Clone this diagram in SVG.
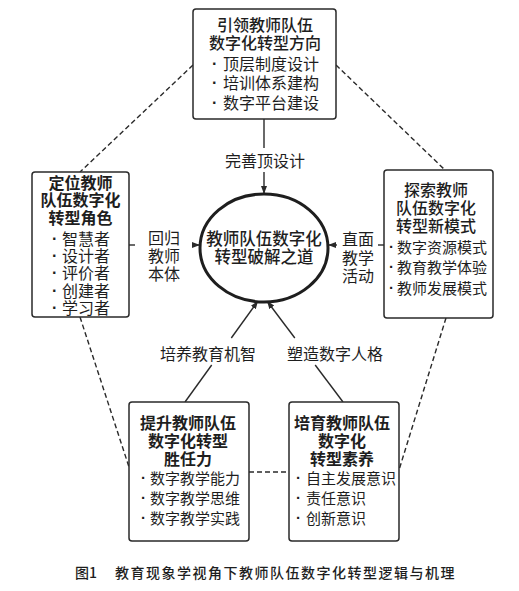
<svg xmlns="http://www.w3.org/2000/svg" width="519" height="591" viewBox="0 0 519 591">
<style>
text{font-family:"Noto Sans CJK SC","Noto Sans",sans-serif;fill:#1e1e1e;dominant-baseline:central}
.box{fill:#fff;stroke:#2a2a2a;stroke-width:1.5}
.t{font-size:16px;font-weight:bold;text-anchor:middle}
.i16{font-size:16px}
.i15{font-size:15px}
.b{font-family:"Liberation Sans",sans-serif;font-weight:bold}
.lab{font-size:16px;text-anchor:middle}
.con{stroke:#2a2a2a;stroke-width:1.4;fill:none}
.dash{stroke:#2a2a2a;stroke-width:1.4;fill:none;stroke-dasharray:5 3}
</style>
<defs>
<marker id="arr" markerUnits="userSpaceOnUse" markerWidth="9" markerHeight="7" refX="8" refY="3" orient="auto">
<path d="M0,0 L8,3 L0,6 z" fill="#2a2a2a"/>
</marker>
</defs>
<rect width="519" height="591" fill="#fff"/>
<g id="connectors">
<line class="dash" x1="193" y1="65" x2="80" y2="172"/>
<line class="dash" x1="336" y1="65" x2="445" y2="170"/>
<line class="dash" x1="80" y1="317" x2="129" y2="467"/>
<line class="dash" x1="446" y1="318" x2="399" y2="470"/>
<line class="dash" x1="249" y1="472" x2="289" y2="472"/>
<line class="con" x1="264" y1="119" x2="264" y2="148"/>
<line class="con" x1="264" y1="172" x2="264" y2="194" marker-end="url(#arr)"/>
<line class="con" x1="129" y1="245" x2="135" y2="245"/>
<line class="con" x1="192" y1="245" x2="200" y2="245" marker-end="url(#arr)"/>
<line class="con" x1="384" y1="245" x2="378" y2="245"/>
<line class="con" x1="337" y1="245" x2="328" y2="245" marker-end="url(#arr)"/>
<line class="con" x1="185" y1="402" x2="211.7" y2="365"/>
<line class="con" x1="231.3" y1="338" x2="258" y2="301" marker-end="url(#arr)"/>
<line class="con" x1="343" y1="402" x2="315.2" y2="365"/>
<line class="con" x1="294.8" y1="338" x2="267" y2="301" marker-end="url(#arr)"/>
<text class="lab" x="265" y="160">完善顶设计</text>
<text class="lab" x="164" y="237">回归</text>
<text class="lab" x="164" y="255">教师</text>
<text class="lab" x="164" y="273">本体</text>
<text class="lab" x="358" y="238">直面</text>
<text class="lab" x="358" y="257">教学</text>
<text class="lab" x="358" y="275">活动</text>
<text class="lab" x="208" y="353">培养教育机智</text>
<text class="lab" x="335" y="353">塑造数字人格</text>
</g>
<g id="center">
<ellipse cx="264" cy="248" rx="64" ry="54" fill="#fff" stroke="#1e1e1e" stroke-width="3"/>
<text class="t" x="264" y="238" style="font-size:16.5px;font-weight:500">教师队伍数字化</text>
<text class="t" x="264" y="256" style="font-size:16.5px;font-weight:500">转型破解之道</text>
</g>
<g id="top">
<rect class="box" x="193" y="9" width="143" height="110" rx="3"/>
<text class="t" x="265" y="24" style="font-weight:500">引领教师队伍</text>
<text class="t" x="265" y="42" style="font-weight:500">数字化转型方向</text>
<text class="i16"><tspan class="b" x="212" y="63">·</tspan><tspan x="223" y="63">顶层制度设计</tspan></text>
<text class="i16"><tspan class="b" x="212" y="82">·</tspan><tspan x="223" y="82">培训体系建构</tspan></text>
<text class="i16"><tspan class="b" x="212" y="102">·</tspan><tspan x="223" y="102">数字平台建设</tspan></text>
</g>
<g id="left">
<rect class="box" x="32" y="172" width="97" height="145" rx="3"/>
<text class="t" x="80.5" y="182">定位教师</text>
<text class="t" x="80.5" y="199">队伍数字化</text>
<text class="t" x="80.5" y="217">转型角色</text>
<text class="i16"><tspan class="b" x="52" y="238">·</tspan><tspan x="62" y="238">智慧者</tspan></text>
<text class="i16"><tspan class="b" x="52" y="255">·</tspan><tspan x="62" y="255">设计者</tspan></text>
<text class="i16"><tspan class="b" x="52" y="272">·</tspan><tspan x="62" y="272">评价者</tspan></text>
<text class="i16"><tspan class="b" x="52" y="290">·</tspan><tspan x="62" y="290">创建者</tspan></text>
<text class="i16"><tspan class="b" x="52" y="307">·</tspan><tspan x="62" y="307">学习者</tspan></text>
</g>
<g id="right">
<rect class="box" x="384" y="170" width="109" height="148" rx="3"/>
<text class="t" x="436" y="189" style="font-weight:500">探索教师</text>
<text class="t" x="436" y="207" style="font-weight:500">队伍数字化</text>
<text class="t" x="436" y="225" style="font-weight:500">转型新模式</text>
<text class="i15"><tspan class="b" x="389" y="246">·</tspan><tspan x="397" y="246">数字资源模式</tspan></text>
<text class="i15"><tspan class="b" x="389" y="266">·</tspan><tspan x="397" y="266">教育教学体验</tspan></text>
<text class="i15"><tspan class="b" x="389" y="287">·</tspan><tspan x="397" y="287">教师发展模式</tspan></text>
</g>
<g id="bottom-left">
<rect class="box" x="129" y="402" width="120" height="139" rx="3"/>
<text class="t" x="188" y="422">提升教师队伍</text>
<text class="t" x="188" y="440">数字化转型</text>
<text class="t" x="188" y="458">胜任力</text>
<text class="i15"><tspan class="b" x="141" y="477">·</tspan><tspan x="150" y="477">数字教学能力</tspan></text>
<text class="i15"><tspan class="b" x="141" y="497">·</tspan><tspan x="150" y="497">数字教学思维</tspan></text>
<text class="i15"><tspan class="b" x="141" y="517">·</tspan><tspan x="150" y="517">数字教学实践</tspan></text>
</g>
<g id="bottom-right">
<rect class="box" x="289" y="402" width="110" height="139" rx="3"/>
<text class="t" x="342" y="422">培育教师队伍</text>
<text class="t" x="342" y="440">数字化</text>
<text class="t" x="342" y="458">转型素养</text>
<text class="i15"><tspan class="b" x="296" y="477">·</tspan><tspan x="306" y="477">自主发展意识</tspan></text>
<text class="i15"><tspan class="b" x="296" y="497">·</tspan><tspan x="306" y="497">责任意识</tspan></text>
<text class="i15"><tspan class="b" x="296" y="517">·</tspan><tspan x="306" y="517">创新意识</tspan></text>
</g>
<text x="75" y="572" style="font-size:14px;font-weight:500"><tspan>图1</tspan><tspan x="115" style="letter-spacing:1.5px">教育现象学视角下教师队伍数字化转型逻辑与机理</tspan></text>
</svg>
